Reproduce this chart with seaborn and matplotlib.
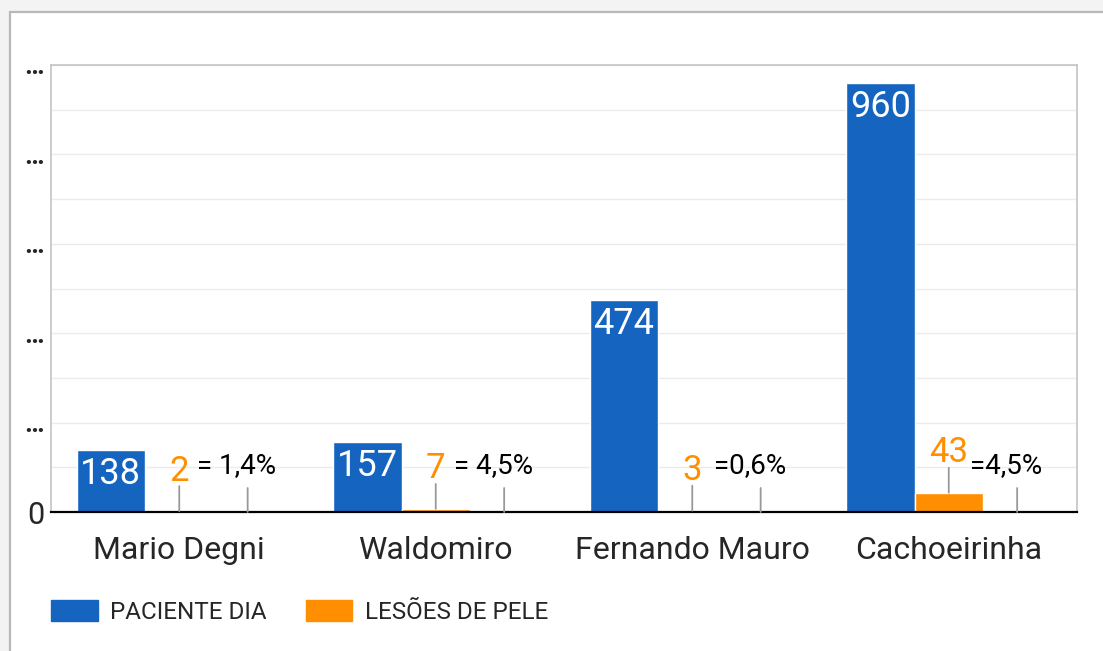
import matplotlib.pyplot as plt
import matplotlib.patches as mpatches
import pandas as pd
import seaborn as sns

hospitais = ["Mario Degni", "Waldomiro", "Fernando Mauro", "Cachoeirinha"]
paciente_dia = [138, 157, 474, 960]
lesoes_pele = [2, 7, 3, 43]
percentuais = ["= 1,4%", "= 4,5%", "=0,6%", "=4,5%"]
series = ["PACIENTE DIA", "LESÕES DE PELE", "%"]

AZUL = "#1565c0"
LARANJA = "#ff8f00"

sns.set_style("white")
plt.rcParams['font.family'] = ['Roboto', 'DejaVu Sans']

# long-form table; the third series is only a slot for the percent annotation
df = pd.DataFrame({
    "hospital": hospitais * 3,
    "serie": [series[0]] * 4 + [series[1]] * 4 + [series[2]] * 4,
    "valor": paciente_dia + lesoes_pele + [0] * 4,
})

fig = plt.figure(figsize=(11.03, 6.51), dpi=100, facecolor="#f3f3f3")
fig.add_artist(mpatches.Rectangle((10 / 1103, -0.1), 1.2, (651 - 12) / 651 + 0.1,
                                  transform=fig.transFigure, facecolor="white",
                                  edgecolor="#b8b8b8", linewidth=1.6, zorder=-1))

ax = fig.add_axes([51 / 1103, 139 / 651, 1026 / 1103, 447 / 651])
ax.set_facecolor("white")

sns.barplot(data=df, x="hospital", y="valor", hue="serie", hue_order=series,
            palette=[AZUL, LARANJA, (1, 1, 1, 0)], width=0.8, gap=0,
            saturation=1, legend=False, ax=ax)

ax.set_ylim(0, 1000)
ax.set_yticks(range(0, 1001, 200))
ax.set_yticklabels(["0"] + ["…"] * 5)
ax.set_yticks(range(100, 1000, 200), minor=True)
ax.grid(which="both", axis="y", color="#ebebeb", linewidth=1)
ax.set_axisbelow(True)
ax.tick_params(axis="both", which="both", length=0)
ax.tick_params(axis="x", labelsize=23, pad=17)
ax.tick_params(axis="y", labelsize=22, pad=5)
for lbl in ax.get_yticklabels()[1:]:
    lbl.set_fontsize(19)
    lbl.set_fontweight("bold")
ax.set_xlabel("")
ax.set_ylabel("")

for side in ["left", "top", "right"]:
    ax.spines[side].set_color("#c4c4c4")
    ax.spines[side].set_linewidth(1.2)
ax.spines["bottom"].set_color("black")
ax.spines["bottom"].set_linewidth(1.6)

stem = dict(arrowstyle="-", color="#999999", lw=1.3, shrinkA=0, shrinkB=0)
for i, (bp, bl, bx) in enumerate(zip(ax.containers[0], ax.containers[1], ax.containers[2])):
    cx = bp.get_x() + bp.get_width() / 2
    ax.annotate(str(paciente_dia[i]), (cx, bp.get_height()), xytext=(0, -6),
                textcoords="offset pixels", ha="center", va="top",
                color="white", fontsize=26)

    lx = bl.get_x() + bl.get_width() / 2
    ax.annotate("", (lx, bl.get_height()), xytext=(0, 25),
                textcoords="offset pixels", arrowprops=stem)
    ax.annotate(str(lesoes_pele[i]), (lx, bl.get_height()), xytext=(0, 40),
                textcoords="offset pixels", ha="center", va="center",
                color=LARANJA, fontsize=25)

    px = bx.get_x() + bx.get_width() / 2
    ax.annotate("", (px, 0), xytext=(0, 24),
                textcoords="offset pixels", arrowprops=stem)
    ax.annotate(percentuais[i], (px, 0), xytext=(-11, 46),
                textcoords="offset pixels", ha="center", va="center",
                color="black", fontsize=20)

handles = [mpatches.Patch(color=AZUL, label=series[0]),
           mpatches.Patch(color=LARANJA, label=series[1])]
fig.legend(handles=handles, loc="center left",
           bbox_to_anchor=(51 / 1103, 1 - 612 / 651), frameon=False,
           ncol=2, fontsize=17.5, handlelength=1.93, handleheight=0.95,
           handletextpad=0.5, columnspacing=1.6, borderpad=0, borderaxespad=0)

fig.savefig("out.png", dpi=100, facecolor=fig.get_facecolor())
